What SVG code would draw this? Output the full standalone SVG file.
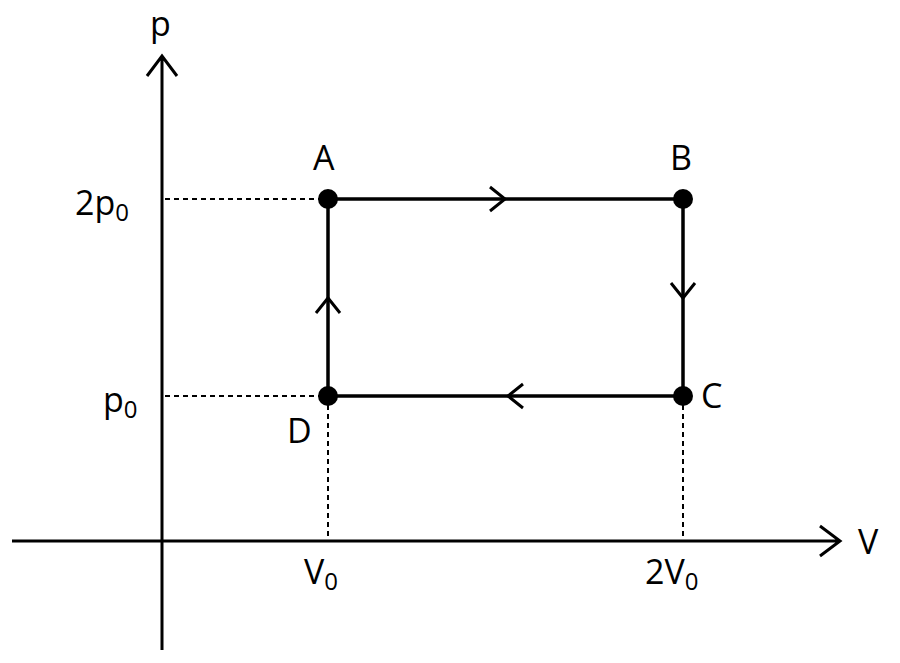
<svg xmlns="http://www.w3.org/2000/svg" width="900" height="663" viewBox="0 0 900 663">
<style>
.ax{stroke:#000;stroke-width:3;fill:none}
.ln{stroke:#000;stroke-width:3.5;fill:none}
.ds{stroke:#000;stroke-width:2;stroke-dasharray:5,4;fill:none}
.ch{stroke:#000;stroke-width:3;fill:none}
text{font-family:"Open Sans","Liberation Sans",sans-serif;font-size:34px;fill:#000}
.s{font-size:24px}
</style>
<rect width="900" height="663" fill="#fff"/>
<g id="connectors">
<path class="ax" d="M162 650V56M147 76L162 56L177 76"/>
<path class="ax" d="M12 541H840M820 526L840 541L820 556"/>
<path class="ds" d="M165 199H328M165 396H328M328 396V541M683 396V541"/>
<path class="ln" d="M328 199H683V396H328Z"/>
<path class="ch" d="M490 187L505 199L490 211"/>
<path class="ch" d="M671 283L683 298L695 283"/>
<path class="ch" d="M523 384L508 396L523 408"/>
<path class="ch" d="M316 313L328 298L340 313"/>
</g>
<g id="A"><circle cx="328" cy="199" r="10"/><text x="313" y="170">A</text></g>
<g id="B"><circle cx="683" cy="199" r="10"/><text x="670" y="170">B</text></g>
<g id="C"><circle cx="683" cy="396" r="10"/><text x="701" y="408">C</text></g>
<g id="D"><circle cx="328" cy="396" r="10"/><text x="287" y="443">D</text></g>
<g id="labels">
<text x="150" y="36">p</text>
<text x="858" y="554">V</text>
<text x="75" y="215">2p<tspan class="s" dy="6">0</tspan></text>
<text x="103" y="412">p<tspan class="s" dy="6">0</tspan></text>
<text x="304" y="584">V<tspan class="s" dy="6">0</tspan></text>
<text x="645" y="584">2V<tspan class="s" dy="6">0</tspan></text>
</g>
</svg>
